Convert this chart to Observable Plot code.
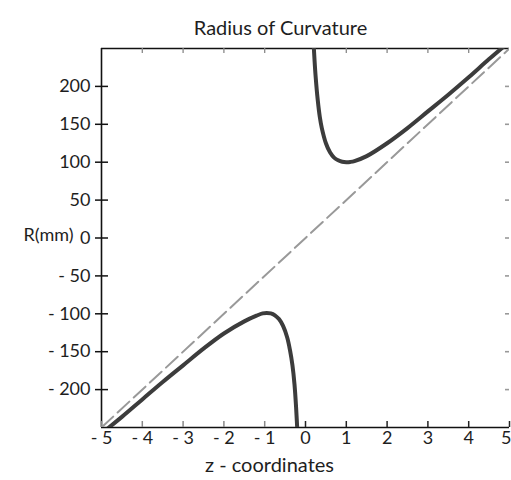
<!DOCTYPE html>
<html>
<head>
<meta charset="utf-8">
<script src="https://cdn.jsdelivr.net/npm/d3@7"></script>
<script src="https://cdn.jsdelivr.net/npm/@observablehq/plot@0.6"></script>
<style>
  html, body { margin: 0; padding: 0; background: #fff; }
</style>
</head>
<body>
<div id="chart"></div>
<script>
// ---- data ----
const titleText = "Radius of Curvature";
const xLabel = "z - coordinates";
const yLabel = "R(mm)";

const xTicks = [-5, -4, -3, -2, -1, 0, 1, 2, 3, 4, 5];
const yTicks = [200, 150, 100, 50, 0, -50, -100, -150, -200];
const topTicks = [-4, -3, -2, -1, 1, 2, 3, 4];

// upper branch (z > 0)
const upperZ = [0.19, 0.22, 0.25, 0.3, 0.35, 0.4, 0.5, 0.6, 0.7, 0.8, 0.9, 1.0, 1.1, 1.2, 1.5, 2.0, 2.5, 3.0, 3.5, 4.0, 4.5, 5.0];
const upperR = [265, 236, 212, 182, 160, 145, 125, 113, 106, 102.5, 100.5, 100, 100.4, 101.5, 108, 125, 145, 167, 189, 212, 236, 259];

// lower branch (z < 0)
const lowerZ = [-5.0, -4.5, -4.0, -3.5, -3.0, -2.5, -2.0, -1.5, -1.2, -1.05, -0.95, -0.85, -0.75, -0.65, -0.55, -0.45, -0.38, -0.32, -0.27, -0.23, -0.19];
const lowerR = [-258, -236, -213, -190, -168, -146, -126, -110, -102.5, -99.5, -99, -99.5, -102, -107, -116, -131, -148, -168, -193, -224, -265];

// asymptote (dashed)
const asymZ = [-5, 5];
const asymR = [-250, 250];

const xDomain = [-5, 5];
const yDomain = [-250, 250];

// ---- build tables ----
const upper = upperZ.map((z, i) => ({z, R: upperR[i]}));
const lower = lowerZ.map((z, i) => ({z, R: lowerR[i]}));
const asym = asymZ.map((z, i) => ({z, R: asymR[i]}));

const W = 511, H = 480;
const mL = 101, mR = 2, mT = 48, mB = 53;
const fw = W - mL - mR, fh = H - mT - mB;

const fmt = d => d < 0 ? "- " + Math.abs(d) : String(d);
const textColor = "#1e1e1e";
const lastX = xTicks[xTicks.length - 1];

const chart = Plot.plot({
  width: W,
  height: H,
  marginLeft: mL,
  marginRight: mR,
  marginTop: mT,
  marginBottom: mB,
  style: {fontFamily: "Lato, 'Open Sans', sans-serif", fontSize: "18px", background: "#fff", color: textColor},
  x: {domain: xDomain},
  y: {domain: yDomain},
  marks: [
    // frame lines
    Plot.ruleY([yDomain[1]], {stroke: "#111", strokeWidth: 1.6}),
    Plot.ruleY([yDomain[0]], {stroke: "#111", strokeWidth: 1.6}),
    Plot.ruleX([xDomain[0]], {stroke: "#111", strokeWidth: 1.6}),
    // bottom ticks pointing up
    Plot.tickX(xTicks, {x: d => d, stroke: d => d < 0 ? "#888" : "#222", strokeWidth: 1.5, insetTop: fh - 6}),
    // top ticks pointing down
    Plot.tickX(topTicks, {x: d => d, stroke: "#888", strokeWidth: 1.3, insetBottom: fh - 5}),
    // right ticks pointing left
    Plot.tickY(yTicks, {y: d => d, stroke: "#999", strokeWidth: 1.6, insetLeft: fw - 4}),
    // left ticks inside part
    Plot.tickY(yTicks, {y: d => d, stroke: "#111", strokeWidth: 1.5, insetRight: fw - 7}),
    // axes
    Plot.axisY({ticks: yTicks, tickFormat: fmt, tickSize: 6, tickPadding: 5, label: null, fill: textColor, stroke: "#111", strokeWidth: 1.5, fontSize: 18}),
    Plot.axisX({ticks: xTicks.slice(0, -1), tickFormat: fmt, tickSize: 0, tickPadding: 4, label: null, fill: textColor, fontSize: 18}),
    Plot.axisX({ticks: [lastX], tickFormat: fmt, tickSize: 0, tickPadding: 4, label: null, fill: textColor, fontSize: 18, textAnchor: "end", dx: 2}),
    // asymptote
    Plot.line(asym, {x: "z", y: "R", stroke: "#999", strokeWidth: 2, strokeDasharray: "16,6", clip: true}),
    // curves
    Plot.line(upper, {x: "z", y: "R", curve: "catmull-rom", stroke: "#3c3c3c", strokeWidth: 4, clip: true}),
    Plot.line(lower, {x: "z", y: "R", curve: "catmull-rom", stroke: "#3c3c3c", strokeWidth: 4, clip: true}),
    // texts
    Plot.text([titleText], {frameAnchor: "top", dx: -25, dy: -28, fontSize: 20, fill: textColor}),
    Plot.text([xLabel], {frameAnchor: "bottom", dx: -36, dy: 44, fontSize: 20, fill: textColor}),
    Plot.text([yLabel], {frameAnchor: "left", dx: -28, dy: -3, textAnchor: "end", fontSize: 18, fill: textColor})
  ]
});

document.getElementById("chart").appendChild(chart);
</script>
</body>
</html>
